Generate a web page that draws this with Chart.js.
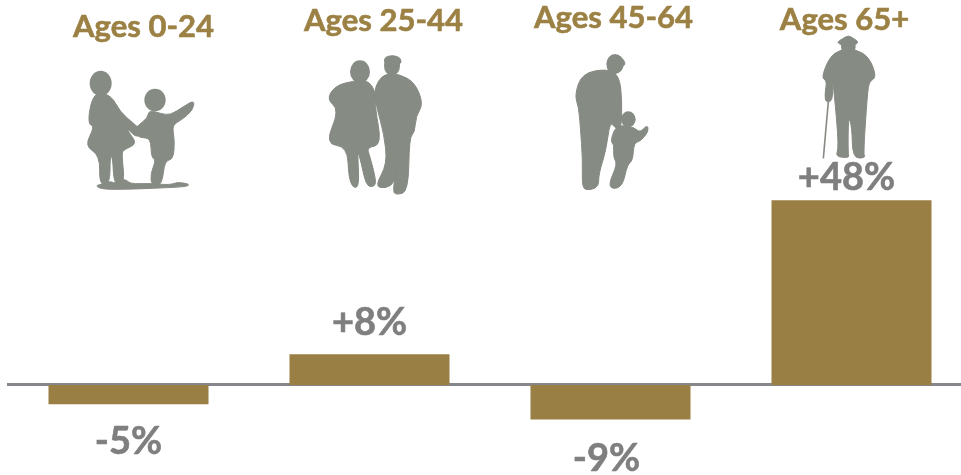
<!DOCTYPE html>
<html>
<head>
<meta charset="utf-8">
<title>Population change by age group</title>
<script src="https://cdn.jsdelivr.net/npm/chart.js@4"></script>
<style>
    html, body { margin: 0; padding: 0; background: #fff; overflow: hidden; }
    #chart { display: block; }
</style>
</head>
<body>
<canvas id="chart" width="980" height="475"></canvas>
<script>
const ageGroups = ['Ages 0-24', 'Ages 25-44', 'Ages 45-64', 'Ages 65+'];
const changePercent = [-5, 8, -9, 48];
const changeLabels = ['-5%', '+8%', '-9%', '+48%'];

// where the loose text sits, the original does not line it up
const titleY = [27, 21, 18, 20];
const titleShift = [15, 14, 3, -7];
const valueGap = [38, 31, 39, 22];
const valueShift = [0, 0, -4, -5];

const TITLE_COLOR = '#9c8144';
const BAR_COLOR = '#9a7f45';
const VALUE_COLOR = '#7f7f7f';
const AXIS_COLOR = '#85878a';
const FIGURE_COLOR = '#868b83';

const figures = [
    [60, 0,
        [
            [[112,275],[155,288],[180,335],[218,368],[246,392],[230,414],[205,388],[205,395],[232,432],[188,450],[186,468],[194,552],[162,556],[158,470],[150,470],[150,552],[118,556],[120,466],[74,438],[104,380],[84,372],[92,308]],
            [[268,330],[300,340],[330,346],[370,320],[404,300],[398,332],[364,360],[336,376],[344,420],[340,478],[314,482],[306,556],[274,556],[272,520],[288,480],[274,472],[272,414],[240,414],[214,395],[240,372],[262,354]],
            [[105,556],[135,552],[150,543],[170,552],[195,535],[210,552],[270,550],[330,555],[352,546],[388,552],[382,560],[300,564],[200,568],[125,568]]
        ],
        [[122,250,33,38], [285,300,32,34]],
        []
    ],
    [60, 0,
        [
            [[880,242],[930,242],[950,290],[945,320],[965,435],[920,442],[930,470],[950,548],[938,562],[918,555],[902,482],[892,448],[898,558],[880,565],[866,532],[862,440],[795,432],[838,330],[800,298],[825,258]],
            [[975,222],[1018,222],[1065,248],[1090,312],[1068,348],[1064,398],[1048,412],[1045,575],[1008,585],[998,572],[1014,475],[1005,548],[975,566],[945,558],[982,492],[972,402],[952,330],[942,275],[955,242]],
            [[972,172],[1000,165],[1024,175],[1022,195],[975,195]]
        ],
        [[900,215,30,34], [996,197,24,30]],
        []
    ],
    [520, 0,
        [
            [[262,206],[298,228],[306,300],[304,390],[285,384],[270,364],[258,452],[236,522],[236,562],[198,572],[186,556],[188,480],[181,380],[176,322],[164,285],[186,220]],
            [[302,375],[342,382],[360,398],[382,374],[386,394],[362,424],[342,428],[338,482],[322,494],[308,558],[278,568],[266,552],[292,492],[280,472],[282,432],[272,426],[282,388]],
            [[264,176],[296,162],[320,192],[302,202],[292,222],[262,216]]
        ],
        [[285,192,26,30], [325,358,22,24]],
        []
    ],
    [520, 0,
        [
            [[962,148],[1008,148],[1048,172],[1070,232],[1048,244],[1042,282],[1030,462],[1036,474],[998,474],[996,382],[985,345],[984,460],[988,474],[946,470],[957,442],[942,272],[938,244],[938,302],[918,308],[914,285],[921,242],[904,234],[928,172]],
            [[950,127],[968,116],[985,106],[1002,116],[1016,126],[1004,136],[966,136]]
        ],
        [[985,140,22,24]],
        [[[925,305],[910,475]]]
    ]
];

function drawFigure(ctx, figure) {
    const [ox, oy, polygons, heads, sticks] = figure;
    const px = (v) => ox + v / 3;
    const py = (v) => oy + v / 3;
    ctx.fillStyle = FIGURE_COLOR;
    ctx.strokeStyle = FIGURE_COLOR;
    ctx.lineJoin = 'round';
    ctx.lineWidth = 1;
    polygons.forEach((poly) => {
        // round the corners by curving through the edge midpoints
        const n = poly.length;
        ctx.beginPath();
        ctx.moveTo(px((poly[n - 1][0] + poly[0][0]) / 2), py((poly[n - 1][1] + poly[0][1]) / 2));
        poly.forEach((p, i) => {
            const next = poly[(i + 1) % n];
            ctx.quadraticCurveTo(px(p[0]), py(p[1]), px((p[0] + next[0]) / 2), py((p[1] + next[1]) / 2));
        });
        ctx.closePath();
        ctx.fill();
        ctx.stroke();
    });
    heads.forEach((h) => {
        ctx.beginPath();
        ctx.ellipse(px(h[0]), py(h[1]), h[2] / 3, h[3] / 3, 0, 0, Math.PI * 2);
        ctx.fill();
    });
    ctx.lineWidth = 1.6;
    sticks.forEach((s) => {
        ctx.beginPath();
        ctx.moveTo(px(s[0][0]), py(s[0][1]));
        ctx.lineTo(px(s[1][0]), py(s[1][1]));
        ctx.stroke();
    });
}

const annotations = {
    id: 'annotations',
    afterDraw(chart) {
        const ctx = chart.ctx;
        const x = chart.scales.x;
        const y = chart.scales.y;
        ctx.save();
        ctx.filter = 'blur(0.5px)';
        figures.forEach((f) => drawFigure(ctx, f));
        ctx.filter = 'none';
        ctx.textAlign = 'center';
        ctx.textBaseline = 'middle';
        ctx.lineJoin = 'round';
        ctx.lineWidth = 0.6;
        ageGroups.forEach((name, i) => {
            const cx = x.getPixelForValue(i);
            ctx.font = 'bold 31px Lato';
            ctx.fillStyle = TITLE_COLOR;
            ctx.strokeStyle = TITLE_COLOR;
            ctx.fillText(name, cx + titleShift[i], titleY[i]);
            ctx.strokeText(name, cx + titleShift[i], titleY[i]);

            const v = changePercent[i];
            const edge = y.getPixelForValue(v);
            const ly = v < 0 ? edge + valueGap[i] : edge - valueGap[i];
            ctx.font = 'bold 38px Lato';
            ctx.fillStyle = VALUE_COLOR;
            ctx.strokeStyle = VALUE_COLOR;
            ctx.fillText(changeLabels[i], cx + valueShift[i], ly);
            ctx.strokeText(changeLabels[i], cx + valueShift[i], ly);
        });
        ctx.restore();
    }
};

new Chart(document.getElementById('chart').getContext('2d'), {
    type: 'bar',
    data: {
        labels: ageGroups,
        datasets: [{
            data: changePercent,
            backgroundColor: BAR_COLOR,
            borderWidth: 0,
            barPercentage: 0.664,
            categoryPercentage: 1
        }]
    },
    options: {
        responsive: false,
        animation: false,
        layout: { padding: { left: 8, right: 8, top: 0, bottom: 0 } },
        plugins: { legend: { display: false }, tooltip: { enabled: false } },
        scales: {
            x: {
                position: { y: 0 },
                grid: { display: false },
                border: { color: AXIS_COLOR, width: 3 },
                ticks: { display: false }
            },
            y: {
                display: false,
                min: -23.4,
                max: 100
            }
        }
    },
    plugins: [annotations]
});
</script>
</body>
</html>
